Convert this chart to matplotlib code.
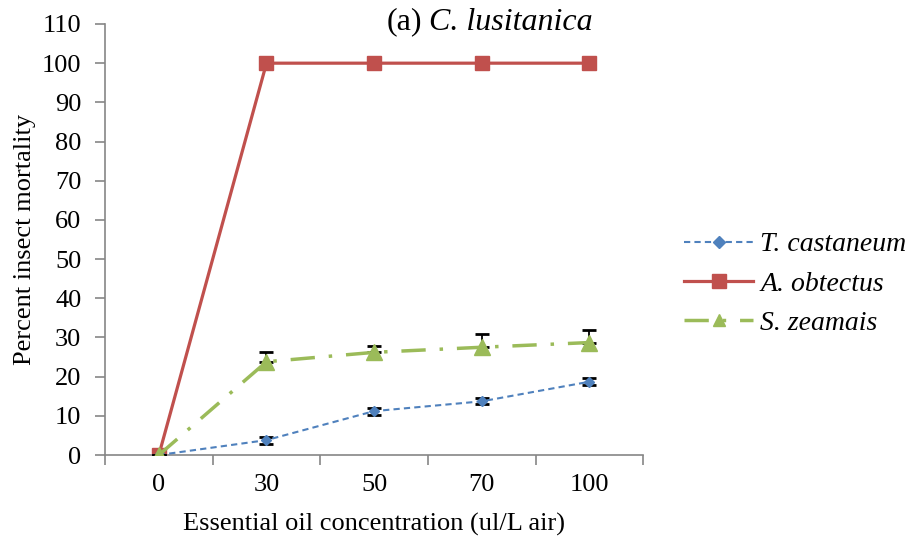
"""Mortalite des insectes en fonction de la concentration d'huile essentielle (C. lusitanica)."""
import matplotlib
matplotlib.use("Agg")
import matplotlib.pyplot as plt
import numpy as np
from matplotlib.lines import Line2D

plt.rcParams["font.family"] = ["Liberation Serif", "DejaVu Serif"]

concentrations = ["0", "30", "50", "70", "100"]

t_castaneum = [0, 3.8, 11.2, 13.7, 18.7]
t_castaneum_err = [0, 0.9, 0.9, 0.8, 0.9]

a_obtectus = [0, 100, 100, 100, 100]

s_zeamais = [0, 23.8, 26.2, 27.5, 28.7]
s_zeamais_err_up = [0, 2.5, 1.5, 3.3, 3.1]

species = ["T. castaneum", "A. obtectus", "S. zeamais"]

BLUE = "#4F81BD"
RED = "#C0504D"
GREEN = "#9BBB59"
AXIS_GREY = "#868686"
FS = 19

BLUE_STYLE = dict(color=BLUE, ls=(0, (3, 2)), lw=1.5, marker="D")
RED_STYLE = dict(color=RED, ls="-", lw=2.3, marker="s")
GREEN_STYLE = dict(color=GREEN, ls=(0, (7, 4, 1, 4)), lw=2.5, marker="^")


def main() -> None:
    fig = plt.figure(figsize=(9.07, 5.44), dpi=100)
    ax = fig.add_axes([0.1158, 0.1636, 0.5934, 0.7923])
    x = np.arange(len(concentrations))

    ax.errorbar(x, t_castaneum, yerr=t_castaneum_err, ms=5.5, ecolor="black",
                elinewidth=1.3, capsize=5, capthick=2, zorder=3, **BLUE_STYLE)
    ax.plot(x, a_obtectus, ms=10, zorder=2, **RED_STYLE)
    ax.errorbar(x, s_zeamais, yerr=[np.zeros(len(x)), s_zeamais_err_up], ms=11,
                ecolor="black", elinewidth=1.3, capsize=5, capthick=2, zorder=4,
                **GREEN_STYLE)

    ax.set_xlim(-0.5, len(x) - 0.5)
    ax.set_ylim(0, 110)
    ax.set_yticks(np.arange(0, 111, 10))
    ax.set_xticks(x)
    ax.set_xticklabels(concentrations)
    ax.set_xticks(np.arange(-0.5, len(x), 1), minor=True)
    ax.tick_params(axis="x", which="major", length=0, pad=14, labelsize=FS)
    ax.tick_params(axis="x", which="minor", length=7, color=AXIS_GREY, width=1.2)
    ax.tick_params(axis="y", length=7, color=AXIS_GREY, width=1.2, labelsize=FS, pad=10)

    for side in ("top", "right"):
        ax.spines[side].set_visible(False)
    for side in ("left", "bottom"):
        ax.spines[side].set_color(AXIS_GREY)
        ax.spines[side].set_linewidth(1.2)

    ax.set_xlabel("Essential oil concentration (ul/L air)", fontsize=FS, labelpad=12)
    ax.set_ylabel("Percent insect mortality", fontsize=FS, labelpad=4)

    # titre : "(a)" droit puis le nom d'espece en italique
    t1 = fig.text(387 / 907, 1 - 22 / 544, "(a)", ha="left", va="center", fontsize=23)
    ax.annotate("C. lusitanica", xy=(1, 0.5), xycoords=t1, xytext=(5, 0),
                textcoords="offset points", ha="left", va="center",
                fontsize=23, style="italic")

    handles = [
        Line2D([], [], ms=6, **BLUE_STYLE),
        Line2D([], [], ms=10, **RED_STYLE),
        Line2D([], [], ms=9, **GREEN_STYLE),
    ]
    ax.legend(handles, species, loc="center left",
              bbox_to_anchor=(684 / 907, 1 - 284 / 544), bbox_transform=fig.transFigure,
              borderaxespad=0, borderpad=0, frameon=False,
              prop={"size": 20, "style": "italic"},
              handlelength=2.5, handletextpad=0.25, labelspacing=0.5)

    fig.savefig("out.png", dpi=100)


if __name__ == "__main__":
    main()
